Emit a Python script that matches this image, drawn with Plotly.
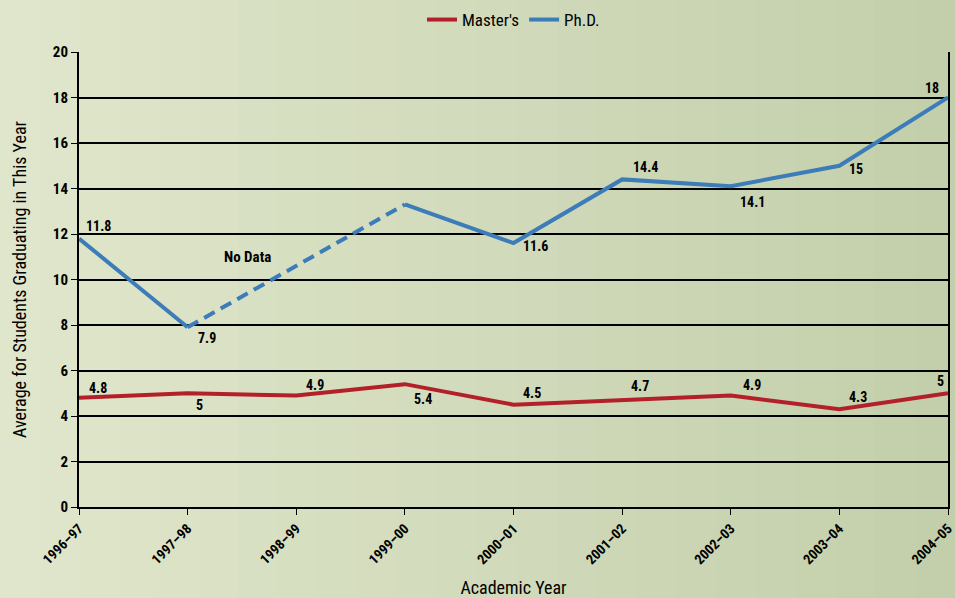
import plotly.graph_objects as go

years = ["1996–97", "1997–98", "1998–99", "1999–00", "2000–01",
         "2001–02", "2002–03", "2003–04", "2004–05"]
masters = [4.8, 5, 4.9, 5.4, 4.5, 4.7, 4.9, 4.3, 5]
phd = [11.8, 7.9, None, 13.3, 11.6, 14.4, 14.1, 15, 18]
masters_labels = ["4.8", "5", "4.9", "5.4", "4.5", "4.7", "4.9", "4.3", "5"]
phd_labels = ["11.8", "7.9", "", "", "11.6", "14.4", "14.1", "15", "18"]
y_ticks = [0, 2, 4, 6, 8, 10, 12, 14, 16, 18, 20]

FONT = "Roboto Condensed, Roboto, Liberation Sans, sans-serif"
RED = "#b3202a"
BLUE = "#3b7cb9"
BG = "#d8e0c2"

W, H = 955, 598
ML, MR, MT, MB = 79, 7, 52, 91
PW = W - ML - MR
PH = H - MT - MB

# label offsets in pixels (dx right, dy up)
m_off = [(19, 10), (12, -12), (19, 11), (18, -15), (18, 12),
         (18, 14), (21, 11), (19, 12), (-8, 12)]
p_off = [(19, 13), (19, -11), (0, 0), (0, 0), (22, -3),
         (23, 12), (22, -16), (17, -3), (-16, 10)]

fig = go.Figure()
fig.add_trace(go.Scatter(
    x=years, y=masters, mode="lines", name="Master's",
    line=dict(color=RED, width=4)))
fig.add_trace(go.Scatter(
    x=years, y=phd, mode="lines", name="Ph.D.",
    line=dict(color=BLUE, width=4), connectgaps=False))
fig.add_trace(go.Scatter(
    x=[years[1], years[3]], y=[phd[1], phd[3]], mode="lines",
    line=dict(color=BLUE, width=4, dash="12px,7px"), showlegend=False,
    hoverinfo="skip"))

for xs, ys, labs, offs in [(years, masters, masters_labels, m_off),
                           (years, phd, phd_labels, p_off)]:
    for x, y, lab, (dx, dy) in zip(xs, ys, labs, offs):
        if lab and y is not None:
            fig.add_annotation(x=x, y=y, text=lab, showarrow=False,
                               xshift=dx, yshift=dy,
                               font=dict(family=FONT, size=14, color="black",
                                         weight="bold"))

fig.add_annotation(x=1.55, y=11.0, text="No Data", showarrow=False,
                   font=dict(family=FONT, size=15, color="black", weight="bold"))

# soft horizontal background gradient (light left -> greener right)
c0 = (0xe0, 0xe6, 0xcb)
c1 = (0xc3, 0xcf, 0xab)
N = 24
for i in range(N):
    t = i / (N - 1)
    col = "rgb(%d,%d,%d)" % tuple(round(a + (b - a) * t) for a, b in zip(c0, c1))
    x0 = (-ML + W * i / N) / PW
    x1 = (-ML + W * (i + 1) / N) / PW + 0.002
    fig.add_shape(type="rect", xref="paper", yref="paper", x0=x0, x1=x1,
                  y0=-MB / PH, y1=1 + MT / PH,
                  fillcolor=col, line=dict(width=0), layer="below")

fig.update_layout(
    width=W, height=H,
    margin=dict(l=ML, r=MR, t=MT, b=MB, autoexpand=False),
    paper_bgcolor=BG, plot_bgcolor="rgba(0,0,0,0)",
    font=dict(family=FONT, color="black"),
    legend=dict(orientation="h", x=0.5, xanchor="center", y=1 + 50 / PH,
                yanchor="top", font=dict(family=FONT, size=17),
                bgcolor="rgba(0,0,0,0)", itemwidth=30),
    showlegend=True,
)
fig.update_xaxes(
    type="category", range=[0, 8], tickangle=-45,
    tickfont=dict(family=FONT, size=14, weight="bold"), ticks="outside", ticklen=6,
    tickcolor="black", showline=True, linecolor="black", linewidth=2,
    mirror=False, showgrid=False, zeroline=False,
    title=dict(text="Academic Year", font=dict(family=FONT, size=18), standoff=16))
fig.update_yaxes(
    range=[0, 20], tickvals=y_ticks, ticks="outside", ticklen=6, tickcolor="black",
    tickfont=dict(family=FONT, size=15, weight="bold"), showline=True,
    linecolor="black", linewidth=2, mirror=True, showgrid=True,
    gridcolor="black", gridwidth=1.5, zeroline=False,
    title=dict(text="Average for Students Graduating in This Year",
               font=dict(family=FONT, size=18), standoff=22))

fig.write_html("out.html", config={"displayModeBar": False},
               post_script="document.body.style.margin='0';"
                           "document.body.style.background='%s';" % BG)
